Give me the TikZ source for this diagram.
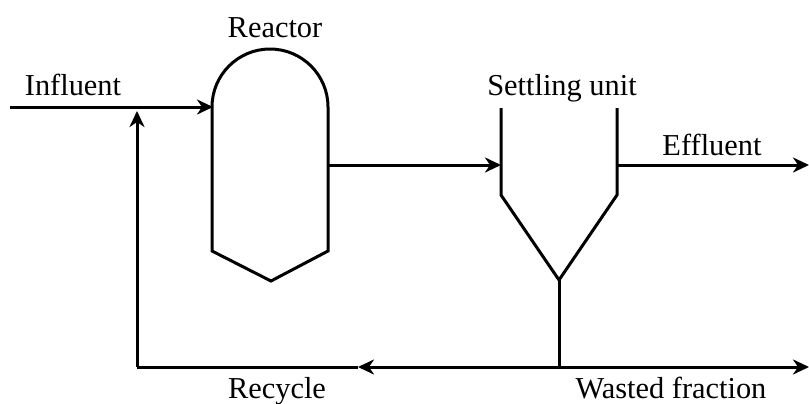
\documentclass[tikz,border=0pt]{standalone}
\usepackage{fontspec}
\setmainfont{Liberation Serif}
\usetikzlibrary{arrows.meta}
\tikzstyle{vessel} = [line width=1.5pt, line join=miter]
\tikzstyle{arrow} = [->, line width=1.5pt]
\tikzstyle{pipe} = [line width=1.5pt]
\tikzstyle{label} = [inner sep=0pt, anchor=base, font=\fontsize{15.2}{18}\selectfont]
\begin{document}
\begin{tikzpicture}[
  >={Stealth[length=8pt, width=7.5pt, inset=2.5pt]},
  x=0.5pt, y=-0.5pt,
]
  \useasboundingbox (0,0) rectangle (809,403);

  % ports on the vessels
  \coordinate (in)     at (10,107);
  \coordinate (r_in)   at (213,107);
  \coordinate (r_out)  at (328,165);
  \coordinate (s_in)   at (501,165);
  \coordinate (s_out)  at (617,165);
  \coordinate (s_tip)  at (559,280);
  \coordinate (eff)    at (809,165);
  \coordinate (split)  at (559,367);
  \coordinate (waste)  at (809,367);
  \coordinate (rec_m)  at (358,367);
  \coordinate (corner) at (137,367);
  \coordinate (rec_up) at (137,111);

  % reactor
  \draw [vessel] (212,107) arc[start angle=180, end angle=360, radius=58]
    -- (328,251) -- (271,281) -- (212,251) -- cycle;

  % settling unit
  \draw [vessel] (501,108) -- (501,195) -- (s_tip) -- (617,195) -- (617,108);

  \draw [arrow] (in) -- (r_in);
  \draw [arrow] (r_out) -- (s_in);
  \draw [arrow] (s_out) -- (eff);
  \draw [pipe]  (s_tip) -- (split);
  \draw [arrow] (split) -- (waste);
  \draw [arrow] (split) -- (rec_m);
  \draw [pipe]  (rec_m) -- (corner);
  \draw [arrow] (corner) -- (rec_up);

  \node[label] (influent) at (73,95)   {Influent};
  \node[label] (reactor)  at (275,37)  {Reactor};
  \node[label] (settling) at (562,95)  {Settling unit};
  \node[label] (effluent) at (712,155) {Effluent};
  \node[label] (recycle)  at (277,398) {Recycle};
  \node[label] (wasted)   at (671,398) {Wasted fraction};
\end{tikzpicture}
\end{document}
